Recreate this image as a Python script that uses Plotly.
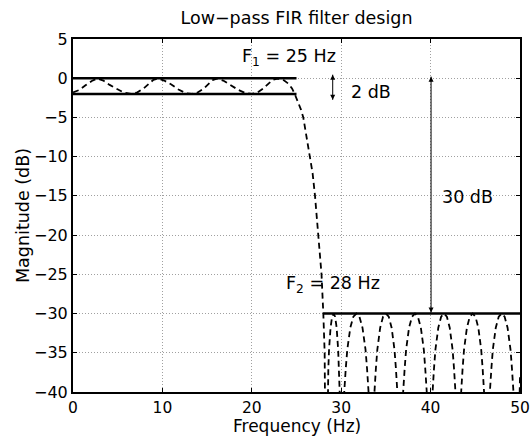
import plotly.graph_objects as go

# Response curve (Hz, dB)
pass_f = [0, 0.7, 1.4, 2.1, 2.7, 3.4, 4.1, 4.9, 5.7, 6.5, 7.2, 7.9, 8.5, 9.0, 9.5, 10.2, 11.0, 11.8, 12.6, 13.3,
          13.9, 14.6, 15.2, 15.6, 16.1, 16.8, 17.6, 18.5, 19.3, 20.0, 20.6, 21.3, 21.9, 22.4, 22.9, 23.5, 24.1, 24.5, 24.8]
pass_db = [-1.8, -1.5, -0.9, -0.35, -0.05, -0.3, -0.85, -1.4, -1.85, -2.0, -1.8, -1.3, -0.65, -0.2, -0.05, -0.3, -0.8, -1.45, -1.9, -2.0,
           -1.85, -1.35, -0.7, -0.25, -0.05, -0.3, -0.85, -1.5, -1.9, -2.0, -1.85, -1.3, -0.65, -0.2, -0.05, -0.2, -0.7, -1.3, -2.0]
trans_f = [25.0, 25.2, 25.5, 25.76, 26.1, 26.5, 26.8, 27.07, 27.45, 27.8, 28.0, 28.15]
trans_db = [-2.6, -3.0, -4.0, -5.0, -7.5, -10.0, -12.1, -15.0, -20.0, -25.0, -30.0, -35.0]
stop_f = [28.3, 28.47, 28.56, 28.64, 28.81, 28.98, 29.15, 29.32, 29.49, 29.66, 29.75, 29.83,
          30.0, 30.34, 30.51, 30.68, 31.02, 31.36, 31.7, 32.04, 32.38, 32.72, 32.89, 33.06,
          33.4, 33.72, 33.88, 34.04, 34.36, 34.68, 35.0, 35.32, 35.64, 35.96, 36.12, 36.28,
          36.6, 36.93, 37.1, 37.26, 37.59, 37.92, 38.25, 38.58, 38.91, 39.24, 39.4, 39.57,
          39.9, 40.22, 40.38, 40.54, 40.86, 41.18, 41.5, 41.82, 42.14, 42.46, 42.62, 42.78,
          43.1, 43.42, 43.58, 43.74, 44.06, 44.38, 44.7, 45.02, 45.34, 45.66, 45.82, 45.98,
          46.3, 46.63, 46.8, 46.96, 47.29, 47.62, 47.95, 48.28, 48.61, 48.94, 49.1, 49.27,
          49.6, 49.93, 50.0]
stop_db = [-60, -40, -37, -34.6, -31.8, -30.4, -30, -30.4, -31.8, -34.6, -37, -40,
           -60, -40, -37, -34.6, -31.8, -30.4, -30, -30.4, -31.8, -34.6, -37, -40,
           -60, -40, -37, -34.6, -31.8, -30.4, -30, -30.4, -31.8, -34.6, -37, -40,
           -60, -40, -37, -34.6, -31.8, -30.4, -30, -30.4, -31.8, -34.6, -37, -40,
           -60, -40, -37, -34.6, -31.8, -30.4, -30, -30.4, -31.8, -34.6, -37, -40,
           -60, -40, -37, -34.6, -31.8, -30.4, -30, -30.4, -31.8, -34.6, -37, -40,
           -60, -40, -37, -34.6, -31.8, -30.4, -30, -30.4, -31.8, -34.6, -37, -40,
           -60, -40, -38]

# Specification lines
spec_pass_f = [0, 25]
spec_pass_hi = [0, 0]
spec_pass_lo = [-2, -2]
spec_stop_f = [28, 50]
spec_stop = [-30, -30]

# Dimension arrows (x, [top, bottom])
ripple_arrow_x = [29.05, 29.05]
ripple_arrow_y = [0.45, -2.75]
atten_arrow_x = [40.05, 40.05]
atten_arrow_y = [0.2, -29.85]

x_ticks = [0, 10, 20, 30, 40, 50]
y_ticks = [5, 0, -5, -10, -15, -20, -25, -30, -35, -40]
y_labels = ["5", "0", "\u22125", "\u221210", "\u221215", "\u221220", "\u221225", "\u221230", "\u221235", "\u221240"]

FONT = "DejaVu Sans"
TS = 17.5
resp_f = pass_f + trans_f + stop_f
resp_db = pass_db + trans_db + stop_db

fig = go.Figure()
fig.add_trace(go.Scatter(x=resp_f, y=resp_db, mode="lines",
                         line=dict(color="black", width=1.8, dash="6px,4px"), showlegend=False))
for xs, ys in [(spec_pass_f, spec_pass_hi), (spec_pass_f, spec_pass_lo), (spec_stop_f, spec_stop)]:
    fig.add_trace(go.Scatter(x=xs, y=ys, mode="lines", line=dict(color="black", width=2.5), showlegend=False))
for xs, ys in [(ripple_arrow_x, ripple_arrow_y), (atten_arrow_x, atten_arrow_y)]:
    fig.add_trace(go.Scatter(x=xs, y=ys, mode="lines+markers", line=dict(color="black", width=1),
                             marker=dict(symbol=["arrow-up", "arrow-down"], size=5, color="black",
                                         line=dict(width=0)),
                             showlegend=False))

ann = []
def txt(x, y, t, xa="left"):
    ann.append(dict(x=x, y=y, xref="x", yref="y", text=t, showarrow=False, xanchor=xa, yanchor="middle",
                    font=dict(family=FONT, size=TS, color="black")))

txt(18.7, 2.6, "F<sub>1</sub> = 25 Hz")
txt(23.6, -26.35, "F<sub>2</sub> = 28 Hz")
txt(30.9, -1.8, "2 dB")
txt(41.1, -15.2, "30 dB")

# Axis titles
ann.append(dict(x=0.5, y=(392 - 415) / 353, xref="paper", yref="paper", text="Frequency (Hz)",
                showarrow=False, xanchor="center", yanchor="top", borderpad=0,
                font=dict(family=FONT, size=17)))
ann.append(dict(x=(22.5 - 73) / 447, y=0.5, xref="paper", yref="paper", text="Magnitude (dB)", textangle=-90,
                showarrow=False, xanchor="center", yanchor="middle", font=dict(family=FONT, size=TS)))

fig.update_layout(
    width=532, height=436, margin=dict(l=73, r=12, t=39, b=44, autoexpand=False),
    paper_bgcolor="white", plot_bgcolor="white",
    font=dict(family=FONT, size=16, color="black"),
    title=dict(text="Low\u2212pass FIR filter design", x=0.5, xref="paper", y=1 - 18 / 436,
               yref="container", xanchor="center", yanchor="middle", font=dict(size=TS)),
    annotations=ann,
    xaxis=dict(range=[0, 50], tickvals=x_ticks, showgrid=True, gridcolor="#a0a0a0", griddash="1px,2px",
               gridwidth=1, zeroline=False, showline=True, linecolor="black", linewidth=2, mirror="ticks",
               ticks="inside", ticklen=4, tickcolor="black", automargin=False, tickfont=dict(size=15.5)),
    yaxis=dict(range=[-40, 5], tickvals=y_ticks, ticktext=y_labels, showgrid=True, gridcolor="#a0a0a0",
               griddash="1px,2px", gridwidth=1, zeroline=False, showline=True, linecolor="black", linewidth=2,
               mirror="ticks", ticks="inside", ticklen=4, tickcolor="black", automargin=False),
)
fig.write_html("out.html", config={"displayModeBar": False},
               post_script="document.body.style.margin='0px';")
